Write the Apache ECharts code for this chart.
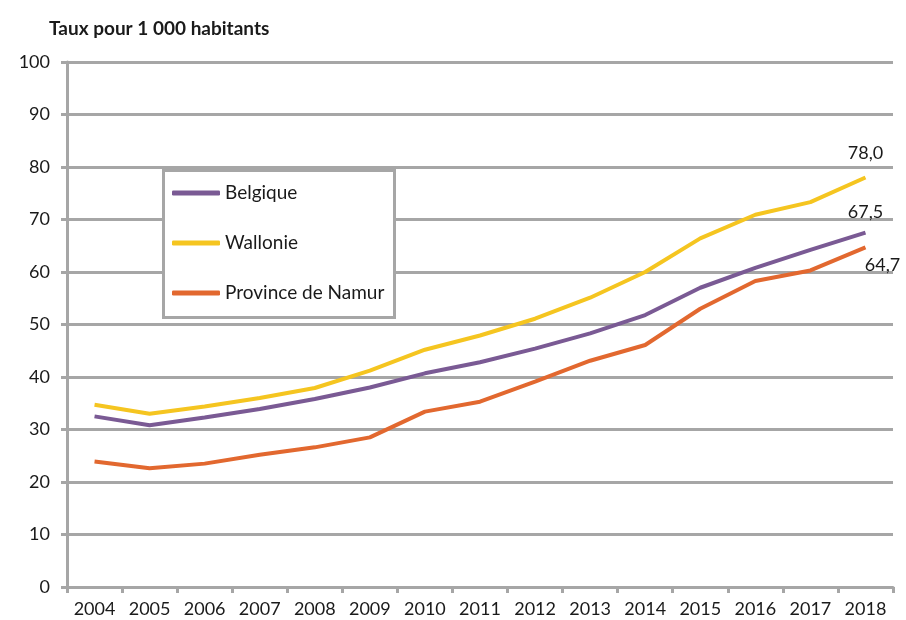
<!DOCTYPE html>
<html><head><meta charset="utf-8">
<script src="https://cdn.jsdelivr.net/npm/echarts@6/dist/echarts.min.js"></script>
<style>html,body{margin:0;padding:0;background:#fff}#c{width:906px;height:620px}</style>
</head><body><div id="c"></div>
<script>
const years = ['2004','2005','2006','2007','2008','2009','2010','2011','2012','2013','2014','2015','2016','2017','2018'];
const belgique = [32.5, 30.8, 32.3, 33.9, 35.8, 38.0, 40.7, 42.8, 45.4, 48.3, 51.8, 57.0, 60.8, 64.2, 67.5];
const wallonie = [34.7, 33.0, 34.4, 36.0, 37.9, 41.2, 45.2, 47.9, 51.1, 55.1, 60.0, 66.4, 70.9, 73.3, 78.0];
const namur = [23.9, 22.6, 23.5, 25.2, 26.6, 28.5, 33.4, 35.3, 39.1, 43.1, 46.1, 53.0, 58.3, 60.3, 64.7];
const yTicks = {min: 0, max: 100, interval: 10};
const lastLabels = ['67,5', '78,0', '64,7'];

const font = 'Lato, "Open Sans", sans-serif';
const gray = '#a6a6a6';
function withLast(arr, txt, off) {
  return arr.map((v, i) => i === arr.length - 1 ? {
    value: v,
    label: {show: true, formatter: txt, position: 'top', offset: off, color: '#1a1a1a', fontSize: 18, fontFamily: font}
  } : v);
}
const chart = echarts.init(document.getElementById('c'), null, {renderer: 'canvas'});
chart.setOption({
  animation: false,
  backgroundColor: '#fff',
  title: {text: 'Taux pour 1 000 habitants', left: 44, top: 14,
    textStyle: {fontFamily: font, fontWeight: 'bold', fontSize: 19, color: '#1a1a1a'}},
  grid: {left: 67, right: 13, top: 62, bottom: 33, containLabel: false},
  xAxis: {
    type: 'category', data: years, boundaryGap: true,
    axisLine: {lineStyle: {color: gray, width: 3}},
    axisTick: {show: true, length: 6, lineStyle: {color: gray, width: 3}},
    axisLabel: {interval: 0, margin: 13, color: '#1a1a1a', fontSize: 18, fontFamily: font},
    splitLine: {show: false}
  },
  yAxis: {
    type: 'value', min: yTicks.min, max: yTicks.max, interval: yTicks.interval,
    axisLine: {show: true, lineStyle: {color: gray, width: 3}},
    axisTick: {show: true, length: 6, lineStyle: {color: gray, width: 3}},
    axisLabel: {margin: 17, color: '#1a1a1a', fontSize: 18, fontFamily: font},
    splitLine: {show: true, lineStyle: {color: gray, width: 3}}
  },
  graphic: [{
    type: 'rect', left: 162, top: 169, z: 50,
    shape: {width: 231, height: 147},
    style: {fill: '#fff', stroke: gray, lineWidth: 3}
  }],
  legend: {
    orient: 'vertical', left: 162, top: 169, z: 60,
    padding: [14, 10, 13, 10], itemGap: 30,
    itemWidth: 48, itemHeight: 5, icon: 'roundRect',
    textStyle: {fontFamily: font, fontSize: 19, color: '#1a1a1a', lineHeight: 20},
    data: ['Belgique', 'Wallonie', 'Province de Namur']
  },
  series: [
    {name: 'Belgique', type: 'line', data: withLast(belgique, lastLabels[0], [0, -6]),
      symbol: 'circle', symbolSize: 0, showSymbol: true,
      lineStyle: {color: '#7a5a94', width: 4}, itemStyle: {color: '#7a5a94'}},
    {name: 'Wallonie', type: 'line', data: withLast(wallonie, lastLabels[1], [0, -10]),
      symbol: 'circle', symbolSize: 0, showSymbol: true,
      lineStyle: {color: '#f5c520', width: 4}, itemStyle: {color: '#f5c520'}},
    {name: 'Province de Namur', type: 'line', data: withLast(namur, lastLabels[2], [17, 32]),
      symbol: 'circle', symbolSize: 0, showSymbol: true,
      lineStyle: {color: '#e2682f', width: 4}, itemStyle: {color: '#e2682f'}}
  ]
});
</script></body></html>
